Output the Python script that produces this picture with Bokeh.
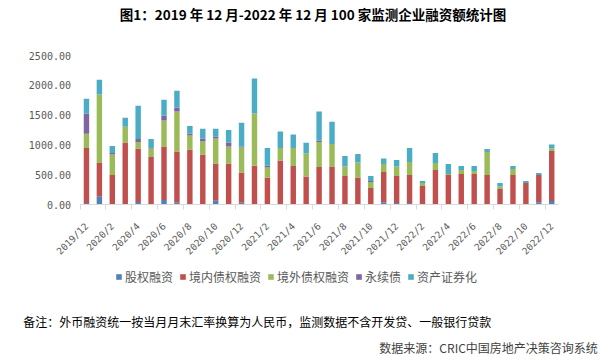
from bokeh.plotting import figure
from bokeh.models import Range1d, FixedTicker, NumeralTickFormatter, Label
from bokeh.embed import file_html
from bokeh.resources import INLINE

months = ["2019/12"] + [f"2020/{m}" for m in range(1, 13)] + \
         [f"2021/{m}" for m in range(1, 13)] + [f"2022/{m}" for m in range(1, 13)]

series_names = ["股权融资", "境内债权融资", "境外债权融资", "永续债", "资产证券化"]
series_colors = ["#4F81BD", "#C0504D", "#9BBB59", "#8064A2", "#4BACC6"]

equity = [25, 131, 0, 0, 42, 0, 76, 31, 0, 0, 64, 0, 31, 0, 0, 0, 0, 0, 0, 0, 0, 0, 0,
          36, 25, 25, 0, 0, 0, 0, 0, 0, 0, 0, 0, 36, 59]
domestic = [925, 566, 496, 1039, 896, 798, 896, 857, 921, 837, 622, 686, 504, 652, 451, 737,
            647, 468, 630, 630, 479, 451, 277, 510, 454, 471, 311, 580, 496, 513, 513, 496,
            261, 496, 361, 460, 840]
overseas = [235, 1149, 341, 264, 112, 140, 437, 672, 236, 219, 420, 286, 420, 874, 168, 213,
            303, 386, 420, 387, 157, 252, 101, 135, 157, 218, 50, 117, 16, 67, 50, 386,
            39, 101, 0, 0, 39]
perpetual = [336, 0, 29, 0, 51, 12, 78, 67, 33, 50, 34, 67, 17, 0, 33, 0, 0, 0, 23, 0, 0, 0,
             17, 0, 0, 0, 0, 0, 0, 0, 0, 0, 0, 0, 0, 0, 0]
abs_sec = [252, 246, 117, 151, 554, 151, 269, 281, 129, 163, 129, 213, 398, 589, 298, 274,
           224, 180, 487, 370, 179, 146, 84, 89, 112, 236, 34, 169, 169, 67, 84, 51, 61,
           50, 34, 33, 68]

y_max = 2500
y_ticks = [0, 500, 1000, 1500, 2000, 2500]
label_idx = list(range(0, len(months), 2))
tick_labels = {i: months[i] for i in label_idx}

title_text = "图1：2019 年 12 月-2022 年 12 月 100 家监测企业融资额统计图"
note_text = "备注：外币融资统一按当月月末汇率换算为人民币，监测数据不含开发贷、一般银行贷款"
source_text = "数据来源：CRIC中国房地产决策咨询系统"

cjk = "Noto Sans CJK SC"

# layout in figure pixels (frame = whole figure)
W, H = 608, 360
PLOT_L, PLOT_R = 79.5, 557.7   # horizontal extent of the category area
PLOT_T, PLOT_B = 55, 204       # pixel rows of y_max and 0
n = len(months)
px_per_cat = (PLOT_R - PLOT_L) / n
u_per_px = y_max / (PLOT_B - PLOT_T)
x0 = -0.5 - PLOT_L / px_per_cat
x1 = n - 0.5 + (W - PLOT_R) / px_per_cat
y0 = -(H - PLOT_B) * u_per_px
y1 = PLOT_B * u_per_px

data = {"x": list(range(n)), "股权融资": equity, "境内债权融资": domestic,
        "境外债权融资": overseas, "永续债": perpetual, "资产证券化": abs_sec}

p = figure(width=W, height=H, output_backend="svg", toolbar_location=None,
           x_range=Range1d(x0, x1), y_range=Range1d(y0, y1),
           min_border_left=0, min_border_right=0, min_border_top=0, min_border_bottom=0)
p.outline_line_color = None
p.xgrid.grid_line_color = None
p.ygrid.grid_line_color = None
p.border_fill_color = "white"

p.vbar_stack(series_names, x="x", width=0.42, source=data, color=series_colors,
             line_width=0, legend_label=series_names)

# y axis (fixed at the left edge of the category area)
p.yaxis.fixed_location = -0.5
p.yaxis.bounds = (0, y_max)
p.yaxis.ticker = FixedTicker(ticks=y_ticks)
p.yaxis.formatter = NumeralTickFormatter(format="0.00")
p.yaxis.axis_line_color = None
p.yaxis.major_tick_line_color = None
p.yaxis.minor_tick_line_color = None
p.yaxis.major_tick_out = 0
p.yaxis.major_tick_in = 0
p.yaxis.major_label_standoff = 9
p.yaxis.major_label_text_font = "DejaVu Sans Mono"
p.yaxis.major_label_text_font_size = "10px"
p.yaxis.major_label_text_color = "#595959"

# x axis (fixed at y = 0)
p.xaxis.fixed_location = 0
p.xaxis.bounds = (-0.5, n - 0.5)
p.xaxis.ticker = FixedTicker(ticks=label_idx,
                             minor_ticks=[i - 0.5 for i in range(0, n, 2)])
p.xaxis.major_label_overrides = tick_labels
p.xaxis.major_label_orientation = 0.785398
p.xaxis.axis_line_color = "#d9d9d9"
p.xaxis.major_tick_line_color = None
p.xaxis.major_tick_out = 0
p.xaxis.major_tick_in = 0
p.xaxis.minor_tick_line_color = "#d9d9d9"
p.xaxis.minor_tick_out = 5
p.xaxis.minor_tick_in = 0
p.xaxis.major_label_standoff = 15
p.xaxis.major_label_text_font = "DejaVu Sans Mono"
p.xaxis.major_label_text_font_size = "9.5px"
p.xaxis.major_label_text_color = "#595959"

# legend (location = bottom-left corner, y measured up from the bottom)
lg = p.legend[0]
lg.orientation = "horizontal"
lg.location = (115, H - 286.5)
lg.glyph_width = 7
lg.glyph_height = 7
lg.label_standoff = 3
lg.spacing = 6
lg.padding = 0
lg.margin = 0
lg.label_height = 20
lg.border_line_color = None
lg.background_fill_alpha = 0
lg.label_text_font = cjk
lg.label_text_font_size = "12px"
lg.label_text_color = "#595959"

# texts
p.add_layout(Label(x=312.6, y=H - 13.5, x_units="screen", y_units="screen", text=title_text,
                   text_font=cjk, text_font_style="bold", text_font_size="13.5px",
                   text_color="black", text_align="center", text_baseline="middle"))
p.add_layout(Label(x=22.7, y=H - 320.5, x_units="screen", y_units="screen", text=note_text,
                   text_font=cjk, text_font_size="12px", text_color="black",
                   text_align="left", text_baseline="middle"))
p.add_layout(Label(x=597.3, y=H - 346.7, x_units="screen", y_units="screen", text=source_text,
                   text_font=cjk, text_font_size="12px", text_color="#3f3f3f",
                   text_align="right", text_baseline="middle"))

open("out.html", "w").write(file_html(p, INLINE))
